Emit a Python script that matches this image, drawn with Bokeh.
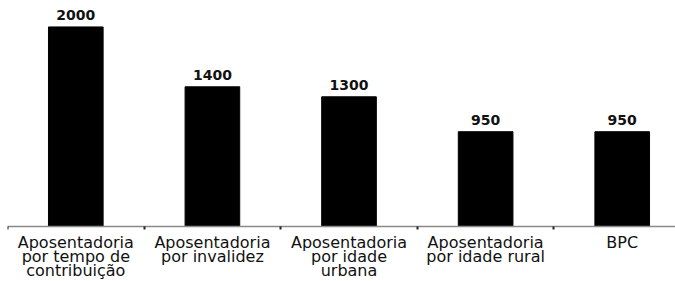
from bokeh.plotting import figure
from bokeh.models import ColumnDataSource, Range1d, FixedTicker
from bokeh.core.properties import value
from bokeh.embed import file_html
from bokeh.resources import INLINE

categories = [
    "Aposentadoria\npor tempo de\ncontribuição",
    "Aposentadoria\npor invalidez",
    "Aposentadoria\npor idade\nurbana",
    "Aposentadoria\npor idade rural",
    "BPC",
]
values = [2000, 1400, 1300, 950, 950]
value_labels = ["2000", "1400", "1300", "950", "950"]

x = [i + 0.5 for i in range(len(categories))]
src = ColumnDataSource(dict(x=x, top=values, label=value_labels))

p = figure(width=675, height=281, output_backend="svg", toolbar_location=None,
           x_range=Range1d(0, 4.890), y_range=Range1d(-551, 2265),
           min_border_left=7, min_border_right=0, min_border_top=0, min_border_bottom=0)
p.outline_line_color = None
p.grid.visible = False
p.yaxis.visible = False

p.vbar(x="x", top="top", width=0.40, source=src, fill_color="black", line_color="black")
p.text(x="x", y="top", text="label", source=src, text_align="center",
       text_baseline="alphabetic", y_offset=-12, text_font=value("DejaVu Sans"),
       text_font_style="bold", text_font_size="14px", text_color="#111111")

ax = p.xaxis[0]
ax.fixed_location = 0
ax.ticker = FixedTicker(ticks=x, minor_ticks=list(range(len(categories) + 1)))
ax.major_label_overrides = {xi: c for xi, c in zip(x, categories)}
ax.axis_line_color = "#8a8a8a"
ax.axis_line_width = 1.5
ax.major_tick_line_color = None
ax.minor_tick_out = 3
ax.minor_tick_in = 0
ax.minor_tick_line_color = "#222222"
ax.minor_tick_line_width = 2
ax.major_label_text_font = "DejaVu Sans"
ax.major_label_text_font_size = "16px"
ax.major_label_text_line_height = 0.76
ax.major_label_standoff = 0
ax.major_label_text_color = "#111111"

open("out.html", "w").write(file_html(p, INLINE))
